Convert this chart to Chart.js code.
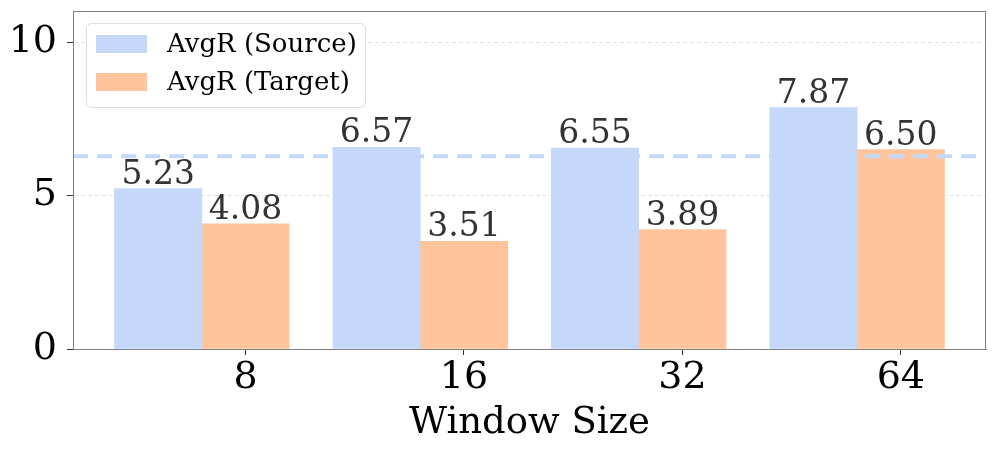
<!DOCTYPE html>
<html>
<head>
<meta charset="utf-8">
<script src="https://cdn.jsdelivr.net/npm/chart.js@4.4.1/dist/chart.umd.min.js"></script>
<style>
  html, body { margin: 0; padding: 0; background: #fff; }
  #wrap { width: 997px; height: 453px; }
</style>
</head>
<body>
<div id="wrap"><canvas id="grafico" width="997" height="453"></canvas></div>
<script>
// dados
const windowSizes = ['8', '16', '32', '64'];
const avgrSource = [5.23, 6.57, 6.55, 7.87];
const avgrTarget = [4.08, 3.51, 3.89, 6.50];
const baselineValue = [6.28];
const yTicks = [0, 5, 10];
const seriesNames = ['AvgR (Source)', 'AvgR (Target)'];

const corSource = '#c5d8fa';
const corTarget = '#ffc49b';
const fonte = "'DejaVu Serif', serif";

const barW = 0.4;
const xMin = -0.2 - 0.19;
const xMax = windowSizes.length - 1 + 0.6 + 0.19;
const yMax = Math.max(...avgrSource, ...avgrTarget) * 1.4;

// moldura em volta da área do gráfico
const moldura = {
    id: 'moldura',
    afterDatasetsDraw(chart) {
        const a = chart.chartArea, ctx = chart.ctx;
        ctx.save();
        ctx.strokeStyle = '#808080';
        ctx.lineWidth = 1;
        ctx.strokeRect(Math.round(a.left) + 0.5, Math.round(a.top) + 0.5,
            Math.round(a.right - a.left) - 1, Math.round(a.bottom - a.top));
        ctx.restore();
    }
};

// valores em cima das barras
const rotulos = {
    id: 'rotulos',
    afterDatasetsDraw(chart) {
        const ctx = chart.ctx;
        ctx.save();
        ctx.font = "33px " + fonte;
        ctx.fillStyle = '#333333';
        ctx.textAlign = 'center';
        ctx.textBaseline = 'alphabetic';
        [0, 1].forEach(d => {
            const meta = chart.getDatasetMeta(d);
            meta.data.forEach((bar, i) => {
                const v = chart.data.datasets[d].data[i].y;
                ctx.fillText(v.toFixed(2), bar.x, bar.y - 5);
            });
        });
        ctx.restore();
    }
};

// legenda dentro do gráfico
const legenda = {
    id: 'legenda',
    afterDraw(chart) {
        const ctx = chart.ctx;
        ctx.save();
        const x = 86, y = 23, w = 279, h = 84, r = 5;
        ctx.beginPath();
        ctx.roundRect(x + 0.5, y + 0.5, w, h, r);
        ctx.fillStyle = 'rgba(255,255,255,0.8)';
        ctx.fill();
        ctx.strokeStyle = '#dddddd';
        ctx.lineWidth = 1;
        ctx.stroke();
        const cores = [corSource, corTarget];
        ctx.font = "26px " + fonte;
        ctx.fillStyle = '#000';
        ctx.textBaseline = 'middle';
        seriesNames.forEach((n, i) => {
            const cy = 44 + i * 38;
            ctx.fillStyle = cores[i];
            ctx.fillRect(96, cy - 9, 51, 18);
            ctx.fillStyle = '#000';
            ctx.fillText(n, 167, cy + 1);
        });
        ctx.restore();
    }
};

const ctx = document.getElementById('grafico').getContext('2d');
new Chart(ctx, {
    type: 'bar',
    data: {
        datasets: [
            {
                label: seriesNames[0],
                data: avgrSource.map((v, i) => ({ x: i, y: v })),
                backgroundColor: corSource,
                borderWidth: 0,
                grouped: false,
                barPercentage: 1,
                categoryPercentage: 1,
                order: 2
            },
            {
                label: seriesNames[1],
                data: avgrTarget.map((v, i) => ({ x: i + barW, y: v })),
                backgroundColor: corTarget,
                borderWidth: 0,
                grouped: false,
                barPercentage: 1,
                categoryPercentage: 1,
                order: 2
            },
            {
                type: 'line',
                label: 'baseline',
                data: [{ x: xMin, y: baselineValue[0] }, { x: xMax, y: baselineValue[0] }],
                borderColor: corSource,
                borderWidth: 4,
                borderDash: [15, 9],
                pointRadius: 0,
                fill: false,
                order: 0
            }
        ]
    },
    options: {
        responsive: false,
        animation: false,
        layout: { padding: { left: 0, right: 11, top: 11, bottom: 0 } },
        plugins: {
            legend: { display: false },
            tooltip: { enabled: false }
        },
        scales: {
            x: {
                type: 'linear',
                offset: false,
                min: xMin,
                max: xMax,
                afterBuildTicks(scale) {
                    scale.ticks = windowSizes.map((s, i) => ({ value: i + barW }));
                },
                afterFit(scale) {
                    scale.height = 104;
                    scale.paddingLeft = 0;
                    scale.paddingRight = 0;
                },
                ticks: {
                    callback: (v, i) => windowSizes[i],
                    color: '#000',
                    font: { family: fonte, size: 38 },
                    padding: 0,
                    maxRotation: 0
                },
                grid: {
                    offset: false,
                    drawOnChartArea: false,
                    drawTicks: true,
                    tickLength: 6,
                    tickColor: '#333',
                    tickWidth: 1
                },
                border: { color: '#808080', width: 1 },
                title: {
                    display: true,
                    text: 'Window Size',
                    color: '#000',
                    font: { family: fonte, size: 37 },
                    padding: { top: 0, bottom: 7 }
                }
            },
            y: {
                min: 0,
                max: yMax,
                afterBuildTicks(scale) {
                    scale.ticks = yTicks.map(v => ({ value: v }));
                },
                afterFit(scale) {
                    scale.width = 73;
                    scale.paddingTop = 0;
                    scale.paddingBottom = 0;
                },
                ticks: {
                    color: '#000',
                    font: { family: fonte, size: 38 },
                    padding: 10
                },
                grid: {
                    color: '#e3e3e3',
                    tickBorderDash: [],
                    tickLength: 6,
                    tickColor: '#333',
                    tickWidth: 1
                },
                border: { color: '#808080', width: 1, dash: [4, 3] }
            }
        }
    },
    plugins: [moldura, rotulos, legenda]
});
</script>
</body>
</html>
